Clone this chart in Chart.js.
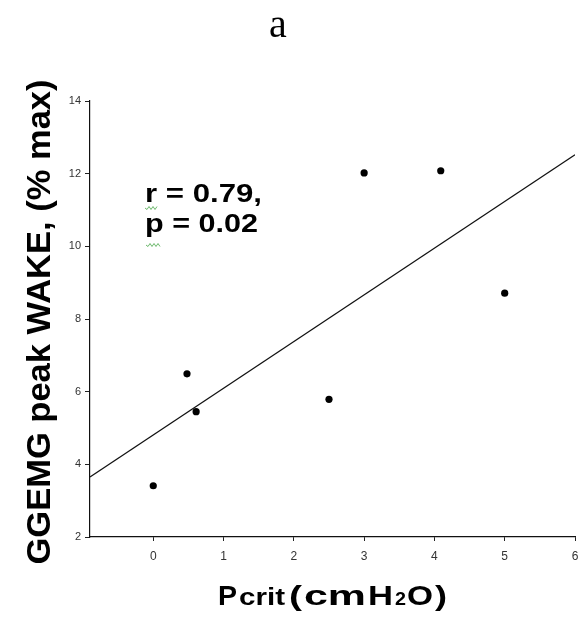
<!DOCTYPE html>
<html>
<head>
<meta charset="utf-8">
<script src="https://cdn.jsdelivr.net/npm/chart.js@4/dist/chart.umd.min.js"></script>
<style>
	body { margin: 0; background: #fff; }
	#wrap { width: 579px; height: 626px; }
</style>
</head>
<body>
<div id="wrap"><canvas id="chart"></canvas></div>
<script>
// Pcrit (cmH2O) vs GGEMG peak WAKE (% max)
const pcrit = [0, 0.48, 0.61, 2.5, 3, 4.09, 5];
const ggemg = [3.41, 6.49, 5.45, 5.79, 12.02, 12.08, 8.71];

// regression line end points
const fitX = [-0.9, 6];
const fitY = [3.65, 12.52];

const xTicks = [0, 1, 2, 3, 4, 5, 6];
const yTicks = [2, 4, 6, 8, 10, 12, 14];

// draw text squeezed/stretched to a given width
function fitText(ctx, text, x, y, font, width) {
	ctx.save();
	ctx.font = font;
	const w = ctx.measureText(text).width;
	ctx.translate(x, y);
	ctx.scale(width / w, 1);
	ctx.fillText(text, 0, 0);
	ctx.restore();
}

function squiggle(ctx, x0, x1, y) {
	ctx.save();
	ctx.strokeStyle = "#6cb86c";
	ctx.lineWidth = 1;
	ctx.beginPath();
	ctx.moveTo(x0, y);
	for (let x = x0, i = 0; x < x1; x += 2, i++) {
		ctx.lineTo(x + 2, y + (i % 2 ? -1.5 : 1.5));
	}
	ctx.stroke();
	ctx.restore();
}

const labelsPlugin = {
	id: "labels",
	afterDraw(chart) {
		const ctx = chart.ctx;
		ctx.save();
		ctx.fillStyle = "#000";
		ctx.textBaseline = "alphabetic";
		ctx.textAlign = "left";

		// panel letter
		ctx.font = "40px 'Liberation Serif'";
		ctx.textAlign = "center";
		ctx.fillText("a", 278, 37);
		ctx.textAlign = "left";

		// r and p
		fitText(ctx, "r = 0.79,", 145, 202, "bold 26px 'Liberation Sans'", 117);
		fitText(ctx, "p = 0.02", 145, 232, "bold 26px 'Liberation Sans'", 113);
		squiggle(ctx, 145, 157, 208);
		squiggle(ctx, 146, 160, 245);

		// y title
		ctx.save();
		ctx.translate(50, 322);
		ctx.rotate(-Math.PI / 2);
		ctx.font = "bold 34px 'Liberation Sans'";
		const yt = "GGEMG peak WAKE, (% max)";
		const yw = ctx.measureText(yt).width;
		ctx.scale(485 / yw, 1);
		ctx.fillText(yt, -yw / 2, 0);
		ctx.restore();

		// x title
		const base = 605;
		fitText(ctx, "P", 218, base, "bold 28px 'Liberation Sans'", 19);
		fitText(ctx, "crit", 239, base, "bold 23px 'Liberation Sans'", 46);
		fitText(ctx, "(", 289, base, "bold 28px 'Liberation Sans'", 13);
		fitText(ctx, "cm", 304, base, "bold 28px 'Liberation Sans'", 62);
		fitText(ctx, "H", 368, base, "bold 28px 'Liberation Sans'", 25);
		fitText(ctx, "2", 395, base, "bold 18px 'Liberation Sans'", 11);
		fitText(ctx, "O", 407, base, "bold 28px 'Liberation Sans'", 26);
		fitText(ctx, ")", 435, base, "bold 28px 'Liberation Sans'", 12);
		ctx.restore();
	},
};

const data = {
	datasets: [
		{
			type: "scatter",
			label: "Subjects",
			data: pcrit.map((x, i) => ({ x, y: ggemg[i] })),
			backgroundColor: "#000",
			borderWidth: 0,
			pointRadius: 3.6,
		},
		{
			type: "line",
			label: "Fit",
			data: fitX.map((x, i) => ({ x, y: fitY[i] })),
			borderColor: "#111",
			borderWidth: 1.2,
			pointRadius: 0,
			fill: false,
		},
	],
};

const options = {
	responsive: true,
	maintainAspectRatio: false,
	animation: false,
	layout: {
		padding: { left: 0, right: 4, top: 101, bottom: 0 },
	},
	plugins: {
		legend: { display: false },
		tooltip: { enabled: false },
	},
	scales: {
		x: {
			type: "linear",
			min: -0.9,
			max: 6,
			afterBuildTicks: (scale) => {
				scale.ticks = xTicks.map((value) => ({ value }));
			},
			afterFit: (scale) => {
				scale.height = 89;
				scale.paddingLeft = 0;
				scale.paddingRight = 0;
			},
			grid: { drawOnChartArea: false, tickLength: 4, color: "#222" },
			border: { color: "#111", width: 1.2 },
			ticks: {
				color: "#333",
				padding: 8,
				maxRotation: 0,
				font: { family: "'Liberation Sans'", size: 12 },
			},
		},
		y: {
			min: 2,
			max: 14,
			afterBuildTicks: (scale) => {
				scale.ticks = yTicks.map((value) => ({ value }));
			},
			afterFit: (scale) => {
				scale.width = 90;
				scale.paddingTop = 0;
				scale.paddingBottom = 0;
			},
			grid: { drawOnChartArea: false, tickLength: 5, color: "#222" },
			border: { color: "#111", width: 1.2 },
			ticks: {
				color: "#333",
				padding: 4,
				font: { family: "'Liberation Sans'", size: 11 },
			},
		},
	},
};

new Chart(document.querySelector("#chart"), {
	data,
	options,
	plugins: [labelsPlugin],
});
</script>
</body>
</html>
